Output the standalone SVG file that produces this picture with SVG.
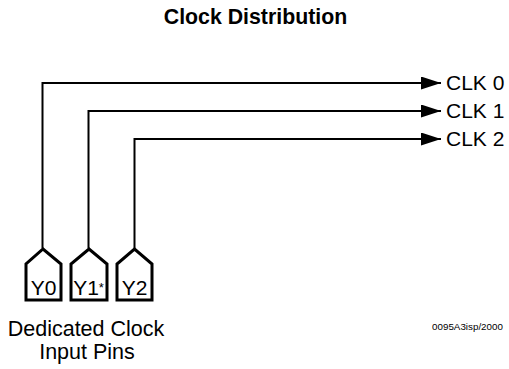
<svg xmlns="http://www.w3.org/2000/svg" width="509" height="369" viewBox="0 0 509 369">
<style>
.t{font-family:"Liberation Sans",Arial,sans-serif;fill:#000}
.w{fill:none;stroke:#000;stroke-width:2}
.pin{fill:#fff;stroke:#000;stroke-width:3;stroke-linejoin:miter}
</style>
<defs>
<marker id="ah" markerUnits="userSpaceOnUse" markerWidth="20" markerHeight="13" refX="20" refY="6.5" orient="auto">
<path d="M0,0 L20,6.5 L0,13 Z" fill="#000"/>
</marker>
</defs>
<rect width="509" height="369" fill="#fff"/>
<text class="t" x="255.5" y="24" font-size="21.3" font-weight="bold" text-anchor="middle">Clock Distribution</text>
<g id="connectors">
<path class="w" d="M42.5,248 V83 H441" marker-end="url(#ah)"/>
<path class="w" d="M88.5,248 V111 H441" marker-end="url(#ah)"/>
<path class="w" d="M134.5,248 V139 H441" marker-end="url(#ah)"/>
</g>
<g id="clk0"><text class="t" x="446" y="90" font-size="21">CLK 0</text></g>
<g id="clk1"><text class="t" x="446" y="118" font-size="21">CLK 1</text></g>
<g id="clk2"><text class="t" x="446" y="146" font-size="21">CLK 2</text></g>
<g id="y0">
<path class="pin" d="M26,300 V264 L43,249 L61,264 V300 Z"/>
<text class="t" x="43.5" y="295" font-size="21" text-anchor="middle">Y0</text>
</g>
<g id="y1">
<path class="pin" d="M71,300 V264 L89,249 L107,264 V300 Z"/>
<text class="t" x="88.5" y="295" font-size="21" text-anchor="middle">Y1<tspan font-size="13" dy="-3">*</tspan></text>
</g>
<g id="y2">
<path class="pin" d="M117,300 V264 L134.5,249 L152,264 V300 Z"/>
<text class="t" x="134.5" y="295" font-size="21" text-anchor="middle">Y2</text>
</g>
<text class="t" x="86" y="335.5" font-size="21.5" text-anchor="middle">Dedicated Clock</text>
<text class="t" x="87" y="358.5" font-size="21.5" text-anchor="middle">Input Pins</text>
<text class="t" x="467.5" y="330" font-size="9.8" text-anchor="middle">0095A3isp/2000</text>
</svg>
